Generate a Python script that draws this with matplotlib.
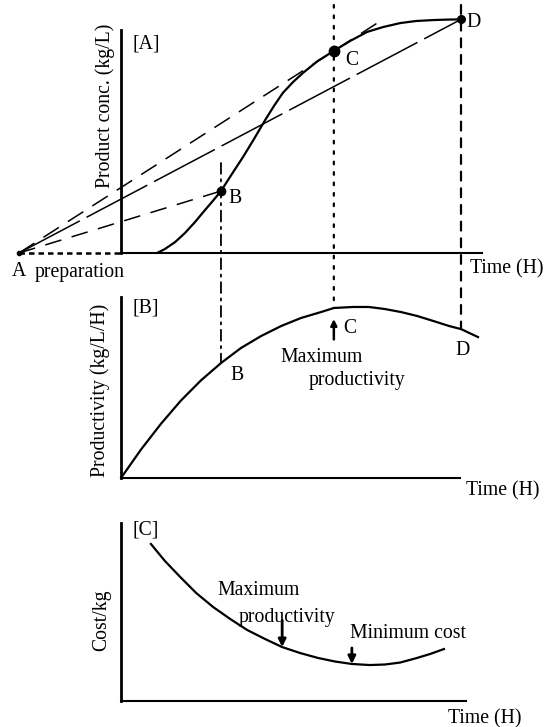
import numpy as np
import matplotlib
matplotlib.use("Agg")
import matplotlib.pyplot as plt
from matplotlib.patches import ConnectionPatch

plt.rcParams['font.family'] = ['Liberation Serif', 'DejaVu Serif']

# ---------------- data (schematic) ----------------
prep_time = 3.0                      # preparation time before t = 0 (H)

# [A] product concentration vs time (S-shaped)
conc_t = [1.06, 1.29, 1.59, 1.88, 2.18, 2.47, 2.71, 2.94, 3.26, 3.59, 3.91, 4.24, 4.50,
          4.76, 5.06, 5.35, 5.79, 6.26, 6.74, 7.24, 7.71, 8.21, 8.68, 9.18, 9.59, 10.0]
conc_v = [0.0, 0.17, 0.47, 0.86, 1.34, 1.85, 2.26, 2.67, 3.40, 4.14, 4.91, 5.73, 6.34,
          6.90, 7.37, 7.76, 8.28, 8.71, 9.14, 9.53, 9.74, 9.91, 10.0, 10.04, 10.06, 10.07]
idx_B, idx_C, idx_D = 7, 17, 25
tangent_C_end = 7.56                 # tangent through C drawn beyond C

# [B] productivity vs time
prod_t = [0.0, 0.59, 1.18, 1.76, 2.35, 2.94, 3.53, 4.12, 4.71, 5.29, 5.88, 6.26,
          6.82, 7.29, 7.76, 8.24, 8.71, 9.18, 9.65, 10.0, 10.5]
prod_v = [0.0, 0.168, 0.320, 0.455, 0.574, 0.676, 0.765, 0.835, 0.894, 0.941, 0.976, 1.0,
          1.006, 1.006, 0.994, 0.976, 0.953, 0.924, 0.894, 0.876, 0.829]
pidx_B, pidx_C, pidx_D = 5, 11, 19

# [C] cost per kg vs time
cost_t = [0.88, 1.29, 1.74, 2.21, 2.71, 3.21, 3.71, 4.24, 4.74, 5.26, 5.79, 6.29,
          6.79, 7.32, 7.76, 8.21, 8.71, 9.09, 9.5]
cost_v = [8.82, 7.87, 6.97, 6.07, 5.28, 4.61, 3.99, 3.48, 3.03, 2.70, 2.42, 2.22,
          2.08, 2.02, 2.05, 2.16, 2.42, 2.64, 2.92]
cidx_maxprod, cidx_mincost = 8, 12

# ---------------- figure ----------------
W, H = 559, 727
fig = plt.figure(figsize=(W / 100, H / 100), dpi=100)
FS = 14.2
K = 'black'


def fx(px):
    return px / W


def fy(py):
    return 1 - py / H


def ftext(x, y, s, **kw):
    kw.setdefault('fontsize', FS)
    kw.setdefault('va', 'baseline')
    kw.setdefault('ha', 'left')
    fig.text(fx(x), fy(y), s, color=K, **kw)


def style_axes(ax, left_top, bottom_end):
    for s in ('top', 'right'):
        ax.spines[s].set_visible(False)
    ax.spines['left'].set_position(('data', 0))
    ax.spines['left'].set_bounds(0, left_top)
    ax.spines['bottom'].set_bounds(0, bottom_end)
    ax.spines['left'].set_linewidth(2.0)
    ax.spines['bottom'].set_linewidth(1.5)
    ax.set_xticks([])
    ax.set_yticks([])
    ax.patch.set_visible(False)


x0, x1 = 19, 484.8
tmin, tmax = -3.0, 10.7
CURVE_LW = 1.6

# ---- panel A ----
axA = fig.add_axes([fx(x0), fy(253), fx(x1) - fx(x0), 250 / H])
axA.set_xlim(tmin, tmax)
axA.set_ylim(0, 250 / 23.2)
style_axes(axA, 9.61, 10.62)

axA.plot([-prep_time, 0], [0, 0], color=K, lw=1.8, ls=(0, (2.2, 1.6)), clip_on=False)
axA.plot(conc_t, conc_v, color=K, lw=CURVE_LW, solid_joinstyle='round')

tB, cB = conc_t[idx_B], conc_v[idx_B]
tC, cC = conc_t[idx_C], conc_v[idx_C]
tD, cD = conc_t[idx_D], conc_v[idx_D]
slopeC = cC / (tC + prep_time)
axA.plot([-prep_time, tB], [0, cB], color=K, lw=1.1, dashes=(11, 7))
axA.plot([-prep_time, tangent_C_end], [0, slopeC * (tangent_C_end + prep_time)],
         color=K, lw=1.1, dashes=(12, 7))
axA.plot([-prep_time, tD], [0, cD], color=K, lw=1.1, dashes=(45, 5))
axA.plot([-prep_time], [0], 'o', color=K, ms=3, clip_on=False)
axA.plot([tB], [cB], 'o', color=K, ms=6)
axA.plot([tC], [cC], 'o', color=K, ms=7.5)
axA.plot([tD], [cD], 'o', color=K, ms=5.5, clip_on=False)

# ---- panel B ----
axB = fig.add_axes([fx(x0), fy(478), fx(x1) - fx(x0), 181 / H])
axB.set_xlim(tmin, tmax)
axB.set_ylim(0, 181 / 170)
style_axes(axB, 181 / 170, 9.97)
axB.plot(prod_t, prod_v, color=K, lw=CURVE_LW, solid_joinstyle='round')
axB.annotate('', xy=(prod_t[pidx_C], 0.935), xytext=(prod_t[pidx_C], 0.815),
             arrowprops=dict(arrowstyle='-|>', lw=1.8, color=K, mutation_scale=9,
                             shrinkA=0, shrinkB=0))

# ---- panel C ----
axC = fig.add_axes([fx(x0), fy(701), fx(x1) - fx(x0), 178 / H])
axC.set_xlim(tmin, tmax)
axC.set_ylim(0, 178 / 17.8)
style_axes(axC, 178 / 17.8, 10.15)
axC.plot(cost_t, cost_v, color=K, lw=CURVE_LW, solid_joinstyle='round')
for ci, top in ((cidx_maxprod, 4.55), (cidx_mincost, 2.98)):
    axC.annotate('', xy=(cost_t[ci], cost_v[ci]), xytext=(cost_t[ci], top),
                 arrowprops=dict(arrowstyle='-|>', lw=2.0, color=K, mutation_scale=11,
                                 shrinkA=0, shrinkB=0))

# ---- vertical connectors between A and B ----
top_conc = 10.69
for (tA, yA, pi, ls, lw) in ((tB, 3.88, pidx_B, (0, (6, 3, 1.2, 3)), 1.3),
                             (tC, top_conc, pidx_C, (0, (1.2, 3.5)), 1.6),
                             (tD, top_conc, pidx_D, (0, (4, 3.5)), 1.6)):
    con = ConnectionPatch(xyA=(tA, yA), coordsA=axA.transData,
                          xyB=(tA, prod_v[pi]), coordsB=axB.transData,
                          color=K, lw=lw, linestyle=ls)
    fig.add_artist(con)

# ---------------- texts ----------------
ftext(133, 48, '[A]')
ftext(228, 203, 'B')
ftext(345, 65, 'C')
ftext(466, 27, 'D')
ftext(12, 276, 'A')
ftext(35, 277, 'preparation')
ftext(470, 273, 'Time (H)')
fig.text(fx(105), fy(106), 'Product conc. (kg/L)', rotation=90, ha='center', va='center',
         fontsize=FS, color=K)

ftext(132, 313, '[B]')
ftext(230, 380, 'B')
ftext(343, 333, 'C')
ftext(280, 362, 'Maximum')
ftext(309, 385, 'productivity')
ftext(455, 355, 'D')
ftext(466, 495, 'Time (H)')
fig.text(fx(100), fy(390), 'Productivity (kg/L/H)', rotation=90, ha='center', va='center',
         fontsize=FS, color=K)

ftext(133, 535, '[C]')
ftext(217, 595, 'Maximum')
ftext(239, 622, 'productivity')
ftext(350, 638, 'Minimum cost')
ftext(448, 723, 'Time (H)')
fig.text(fx(102), fy(620), 'Cost/kg', rotation=90, ha='center', va='center',
         fontsize=FS, color=K)

fig.savefig('out.png', dpi=100)
